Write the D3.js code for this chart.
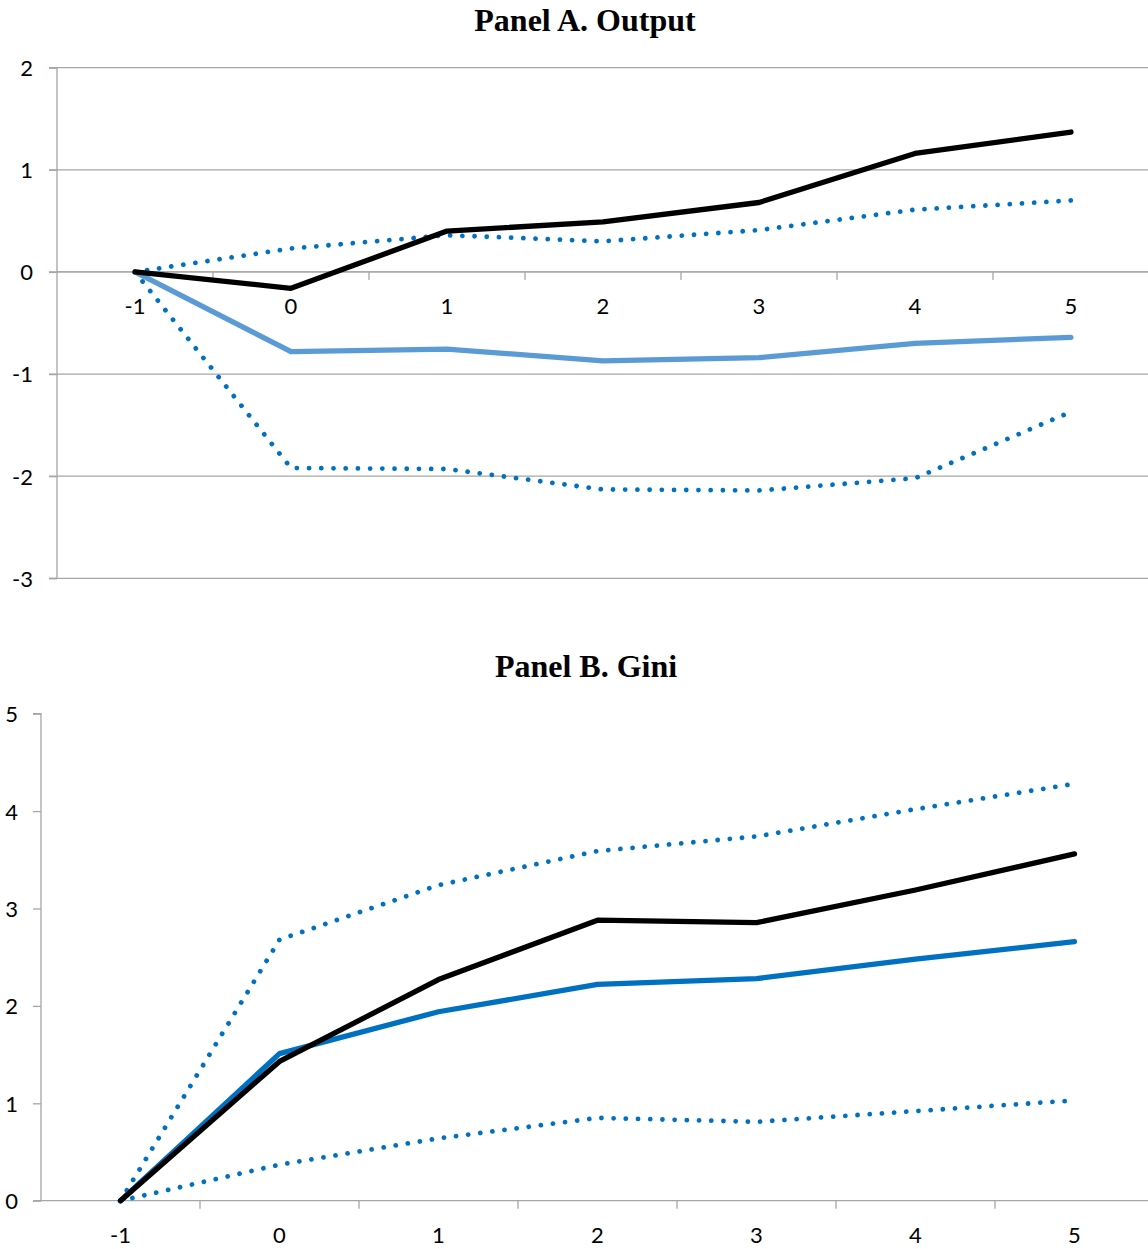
<!DOCTYPE html>
<html>
<head>
<meta charset="utf-8">
<script src="https://cdn.jsdelivr.net/npm/d3@7"></script>
<style>
  html, body { margin: 0; padding: 0; background: #fff; }
  svg { display: block; }
</style>
</head>
<body>
<svg id="chart" width="1148" height="1249"></svg>
<script>
// Horizon (years relative to the event)
const horizons = ["-1", "0", "1", "2", "3", "4", "5"];

// Panel A: output response
const outputA = [0, -0.16, 0.40, 0.49, 0.68, 1.16, 1.37];
const outputB = [0, -0.78, -0.755, -0.87, -0.84, -0.70, -0.64];
const outputUpper = [0, 0.23, 0.36, 0.30, 0.41, 0.61, 0.70];
const outputLower = [0, -1.92, -1.93, -2.13, -2.14, -2.02, -1.37];
const outputTicks = [-3, -2, -1, 0, 1, 2];

// Panel B: Gini response
const giniA = [0, 1.43, 2.27, 2.88, 2.855, 3.19, 3.56];
const giniB = [0, 1.51, 1.94, 2.22, 2.28, 2.48, 2.66];
const giniUpper = [0, 2.68, 3.24, 3.59, 3.74, 4.02, 4.28];
const giniLower = [0, 0.37, 0.64, 0.85, 0.81, 0.92, 1.03];
const giniTicks = [0, 1, 2, 3, 4, 5];

const svg = d3.select("#chart");
const axisColor = "#a6a6a6";
const tickFont = "Lato, 'Open Sans', sans-serif";
const titleFont = "'Liberation Serif', 'Times New Roman', serif";

function drawPanel(cfg) {
  const g = svg.append("g");
  const x = d3.scaleBand().domain(horizons).range([cfg.left, cfg.right]).paddingInner(0).paddingOuter(0);
  const y = d3.scaleLinear().domain(cfg.domain).range([cfg.bottom, cfg.top]);
  const cx = d => x(d) + x.bandwidth() / 2;

  // title
  g.append("text")
    .attr("x", cfg.titleX).attr("y", cfg.titleY)
    .attr("text-anchor", "middle")
    .style("font-family", titleFont)
    .style("font-weight", "bold")
    .style("font-size", "32px")
    .attr("fill", "#000")
    .text(cfg.title);

  // horizontal gridlines
  if (cfg.grid) {
    g.selectAll(".grid").data(cfg.ticks).join("line")
      .attr("x1", cfg.left - 8).attr("x2", 1148)
      .attr("y1", d => y(d)).attr("y2", d => y(d))
      .attr("stroke", axisColor).attr("stroke-width", 1.3);
  }

  // y axis
  const yAxis = d3.axisLeft(y).tickValues(cfg.ticks).tickSize(8).tickFormat(d => String(d));
  const ya = g.append("g").attr("transform", `translate(${cfg.left},0)`).call(yAxis);
  ya.select(".domain").attr("stroke", axisColor).attr("stroke-width", 1.3)
    .attr("d", `M-8,${y(cfg.ticks[cfg.ticks.length - 1])}H0V${y(cfg.ticks[0])}H-8`);
  ya.selectAll(".tick line").attr("stroke", axisColor).attr("stroke-width", 1.3);
  ya.selectAll(".tick text")
    .attr("x", cfg.yLabelX - cfg.left)
    .attr("dy", "0.36em")
    .style("font-family", tickFont).style("font-size", "22px").attr("fill", "#000");

  // x axis along the zero line, ticks at category boundaries
  const zeroY = y(0);
  g.append("line")
    .attr("x1", cfg.left).attr("x2", Math.min(cfg.right, 1148))
    .attr("y1", zeroY).attr("y2", zeroY)
    .attr("stroke", axisColor).attr("stroke-width", 1.3);
  g.selectAll(".xtick").data(horizons.slice(1)).join("line")
    .attr("x1", d => x(d)).attr("x2", d => x(d))
    .attr("y1", zeroY).attr("y2", zeroY + 8)
    .attr("stroke", axisColor).attr("stroke-width", 1.3);
  g.selectAll(".xlabel").data(horizons).join("text")
    .attr("x", d => cx(d)).attr("y", zeroY + cfg.xLabelOffset)
    .attr("text-anchor", "middle")
    .attr("dy", "0.36em")
    .style("font-family", tickFont).style("font-size", "22px").attr("fill", "#000")
    .text(d => d);

  const line = d3.line().x((d, i) => cx(horizons[i])).y(d => y(d));

  cfg.series.forEach(s => {
    g.append("path")
      .datum(s.values)
      .attr("d", line)
      .attr("fill", "none")
      .attr("stroke", s.color)
      .attr("stroke-width", s.width)
      .attr("stroke-linecap", "round")
      .attr("stroke-linejoin", "round")
      .attr("stroke-dasharray", s.dotted ? "0.01 12.2" : null);
  });
}

const dotted = "#0070c0";

drawPanel({
  title: "Panel A. Output",
  titleX: 585, titleY: 31,
  left: 57, right: 1149, top: 67.7, bottom: 578.3,
  domain: [-3, 2], ticks: outputTicks, grid: true,
  yLabelX: 33, xLabelOffset: 34,
  series: [
    { values: outputUpper, color: dotted, width: 4.8, dotted: true },
    { values: outputLower, color: dotted, width: 4.8, dotted: true },
    { values: outputB, color: "#5b9bd5", width: 5.3 },
    { values: outputA, color: "#000000", width: 5.3 }
  ]
});

drawPanel({
  title: "Panel B. Gini",
  titleX: 586, titleY: 677,
  left: 41, right: 1154, top: 713.7, bottom: 1200.7,
  domain: [0, 5], ticks: giniTicks, grid: false,
  yLabelX: 18, xLabelOffset: 34,
  series: [
    { values: giniUpper, color: dotted, width: 4.8, dotted: true },
    { values: giniLower, color: dotted, width: 4.8, dotted: true },
    { values: giniB, color: "#0070c0", width: 5.3 },
    { values: giniA, color: "#000000", width: 5.3 }
  ]
});
</script>
</body>
</html>
